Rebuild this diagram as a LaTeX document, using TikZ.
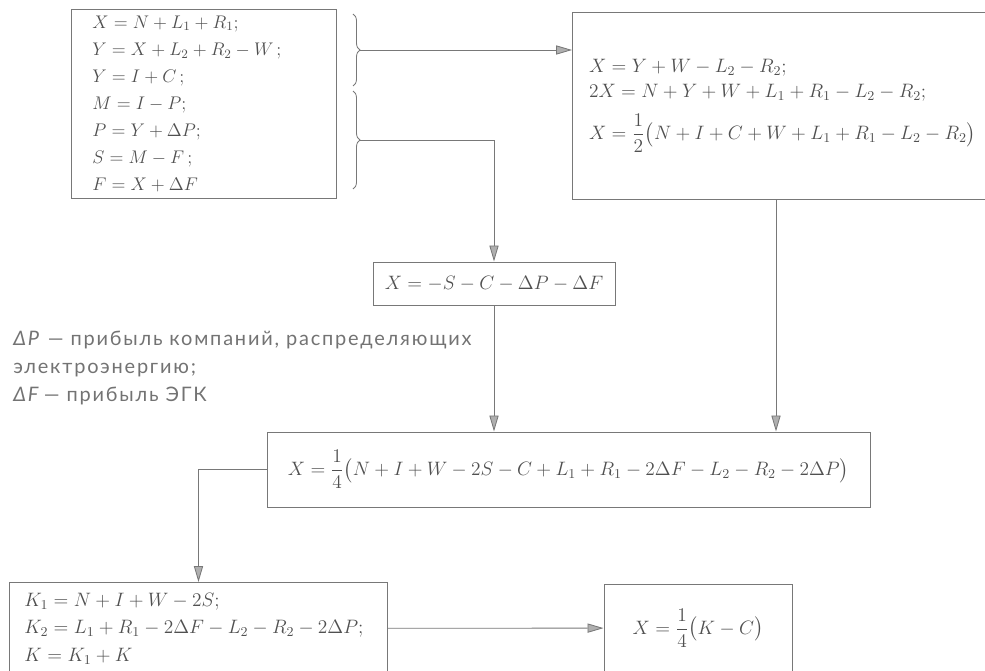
\RequirePackage{fix-cm}
\documentclass[tikz,border=0pt]{standalone}
\usepackage{amsmath}
\usepackage{fontspec}
\usepackage{tikz}
\usetikzlibrary{arrows.meta, decorations.pathreplacing}
\newfontfamily\notefont[LetterSpace=9]{Lato}
\definecolor{linegray}{RGB}{120,120,120}
\definecolor{tipgray}{RGB}{175,175,175}
\definecolor{eqgray}{RGB}{80,80,80}
\definecolor{notegray}{RGB}{115,115,115}
\newlength\pxu
\setlength\pxu{0.025cm}
\tikzset{
  eqbox/.style={rectangle, draw=linegray, line width=0.7pt, text=eqgray,
    font=\fontsize{13.8}{16.5}\selectfont, inner sep=0pt},
  arrow/.style={-{Triangle[length=4mm, width=2.3mm, fill=tipgray]}, line width=0.6pt, color=linegray},
  brc/.style={decorate, decoration={brace, amplitude=7\pxu}, line width=0.6pt, color=linegray},
  note/.style={text=notegray, font=\notefont\fontsize{14.2}{19.9}\selectfont, align=left, inner sep=0pt}
}

\begin{document}
\begin{tikzpicture}[x=0.025cm, y=-0.025cm]
  \useasboundingbox (0,0) rectangle (985,670);
  \clip (0,0) rectangle (985,670);

  % Balance equations
  \node[eqbox, anchor=north west, minimum width=265\pxu, minimum height=189\pxu,
    text width=223\pxu, align=left, font=\fontsize{13}{19.3}\selectfont] at (71,9) (sys) {%
    $X = N + L_1 + R_1;$\\
    $Y = X + L_2 + R_2 - W\,;$\\
    $Y = I + C\,;$\\
    $M = I - P;$\\
    $P = Y + \Delta P;$\\
    $S = M - F\,;$\\
    $F = X + \Delta F$};

  % Braces over the two groups
  \draw[brc] (353,14) -- (353,86);
  \draw[brc] (353,91) -- (353,189);
  \coordinate (ubr) at (360,50);
  \coordinate (lbr) at (360,140);

  % First result
  \node[eqbox, anchor=north west, minimum width=425\pxu, minimum height=187\pxu,
    text width=392\pxu, align=left] at (572,12) (xhalf) {%
    $X = Y + W - L_2 - R_2;$\\[1pt]
    $2X = N + Y + W + L_1 + R_1 - L_2 - R_2;$\\[8pt]
    $X = \dfrac{1}{2}\bigl(N + I + C + W + L_1 + R_1 - L_2 - R_2\bigr)$};

  % Second result
  \node[eqbox, minimum width=242\pxu, minimum height=43\pxu] at (494,283.5) (xsc)
    {$X = -S - C - \Delta P - \Delta F$};

  % Legend
  \node[note, anchor=north west] at (13,331) (legend) {%
    \textit{ΔP} — прибыль компаний, распределяющих\\
    электроэнергию;\\
    \textit{ΔF}\,— прибыль ЭГК};

  % Sum of both
  \node[eqbox, minimum width=603\pxu, minimum height=75\pxu] at (568.5,469.5) (xquart)
    {$X = \dfrac{1}{4}\bigl(N + I + W - 2S - C + L_1 + R_1 - 2\Delta F - L_2 - R_2 - 2\Delta P\bigr)$};

  % Grouped terms
  \node[eqbox, anchor=north west, minimum width=378\pxu, minimum height=92\pxu,
    text width=348\pxu, align=left] at (9,582) (kdef) {%
    $K_1 = N + I + W - 2S;$\\[3pt]
    $K_2 = L_1 + R_1 - 2\Delta F - L_2 - R_2 - 2\Delta P;$\\[3pt]
    $K = K_1 + K$};
  \node[eqbox, minimum width=188\pxu, minimum height=88\pxu] at (698,628) (xk)
    {$X = \dfrac{1}{4}\bigl(K - C\bigr)$};

  % Arrows
  \draw[arrow] (ubr) -- (ubr -| xhalf.west);
  \draw[arrow] (lbr) -| (xsc.north);
  \draw[arrow] (xsc.south) -- (xsc.south |- xquart.north);
  \coordinate (bdrop) at ([xshift=204\pxu]xhalf.south west);
  \draw[arrow] (bdrop) -- (bdrop |- xquart.north);
  \draw[arrow] (xquart.west) -| (kdef.north);
  \draw[arrow] (kdef) -- (xk);
\end{tikzpicture}
\end{document}
